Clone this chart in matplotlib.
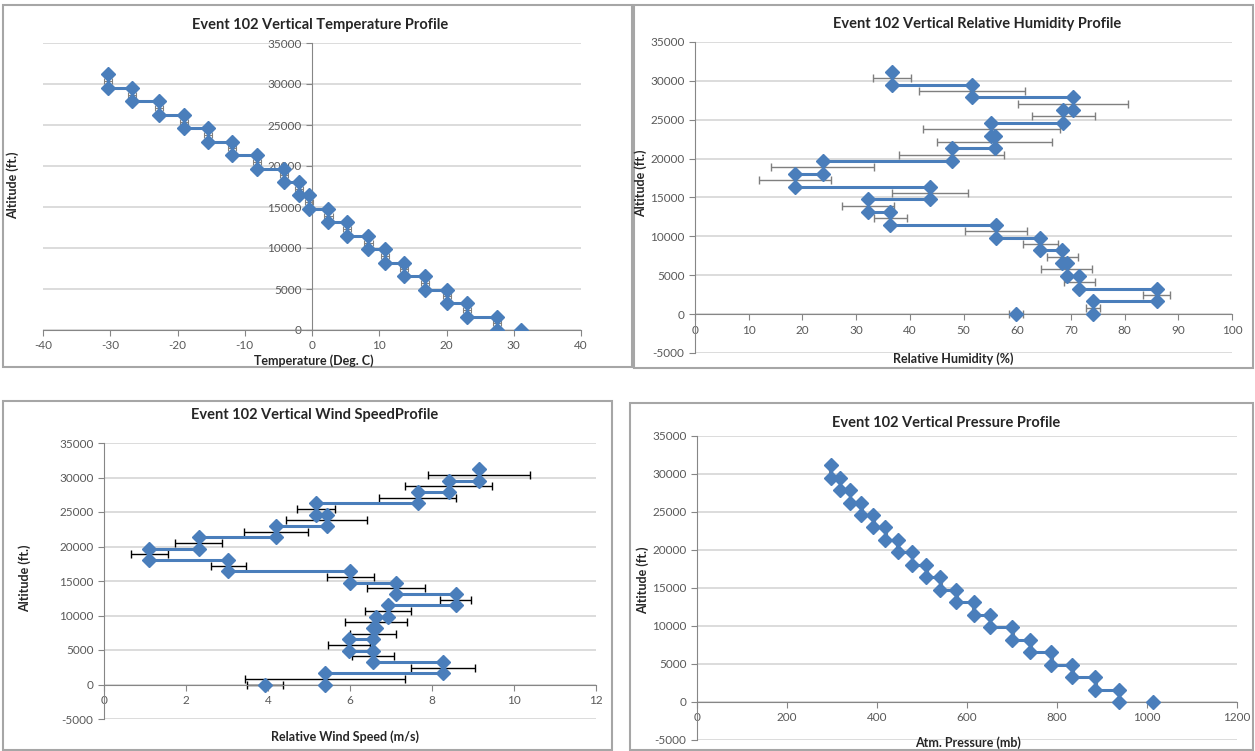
import matplotlib
matplotlib.use("Agg")
import matplotlib.pyplot as plt
from matplotlib.patches import Rectangle

plt.rcParams['font.family'] = ['Lato', 'DejaVu Sans']
plt.rcParams['axes.unicode_minus'] = False

# Altitude levels (ft.) bounding each 500 m layer
ALT_LEVELS = [0, 1640, 3281, 4921, 6562, 8202, 9843, 11483, 13123, 14764,
              16404, 18045, 19685, 21325, 22966, 24606, 26247, 27887, 29528, 31168]

# Layer means, bottom layer first, plus the surface reading
TEMP_LAYERS = [27.5, 23.0, 20.1, 16.8, 13.7, 10.8, 8.4, 5.25, 2.45, -0.5,
               -2.0, -4.2, -8.2, -11.9, -15.4, -19.1, -22.7, -26.8, -30.4]
TEMP_ERR = [0.6, 0.6, 0.6, 0.6, 0.6, 0.6, 0.6, 0.6, 0.6, 0.6,
            0.6, 0.6, 0.6, 0.6, 0.6, 0.6, 0.6, 0.6, 0.6]
TEMP_GROUND = 31.1

RH_LAYERS = [74.2, 86.0, 71.6, 69.2, 68.4, 64.3, 56.0, 36.4, 32.2, 43.7,
             18.7, 23.8, 47.8, 55.8, 55.2, 68.6, 70.4, 51.6, 36.7]
RH_ERR = [1.3, 2.5, 2.9, 4.8, 2.9, 3.3, 5.8, 3.1, 4.8, 7.1,
          6.7, 9.6, 9.8, 10.7, 12.7, 5.9, 10.3, 9.9, 3.6]
RH_GROUND = 59.8
RH_GROUND_ERR = 1.3

WIND_LAYERS = [5.39, 8.28, 6.57, 5.98, 6.57, 6.63, 6.93, 8.58, 7.12, 6.01,
               3.03, 1.10, 2.31, 4.20, 5.43, 5.17, 7.65, 8.41, 9.14]
WIND_ERR = [1.94, 0.78, 0.51, 0.51, 0.56, 0.75, 0.56, 0.38, 0.71, 0.57,
            0.43, 0.45, 0.57, 0.78, 0.98, 0.46, 0.94, 1.06, 1.24]
WIND_GROUND = 3.93
WIND_GROUND_ERR = 0.44

PRES_LAYERS = [938, 885.5, 834, 787, 741, 700.6, 650.8, 614.5, 576.4, 541,
               509.4, 477.7, 446, 418.7, 391.6, 365.3, 339.9, 318.1, 297.3]
PRES_ERR = [3, 3, 3, 3, 3, 3, 3, 3, 3, 3,
            3, 3, 3, 3, 3, 3, 3, 3, 3]
PRES_GROUND = 1013

BLUE = '#4a7ebb'
TICK_COLOR = '#595959'
GRID_COLOR = '#d9d9d9'
AXIS_COLOR = '#868686'


def draw_profile(ax, values, errs, ground, ground_err, ecolor, elw, cap=3):
    xs, ys, mids = [], [], []
    for i, v in enumerate(values):
        xs += [v, v]
        ys += [ALT_LEVELS[i], ALT_LEVELS[i + 1]]
        mids.append((ALT_LEVELS[i] + ALT_LEVELS[i + 1]) / 2)
    ax.errorbar(values, mids, xerr=errs, fmt='none', ecolor=ecolor,
                elinewidth=elw, capsize=cap, capthick=elw, zorder=2)
    if ground_err:
        ax.errorbar([ground], [0], xerr=[ground_err], fmt='none', ecolor=ecolor,
                    elinewidth=elw, capsize=cap, capthick=elw, zorder=2)
    ax.plot(xs, ys, color=BLUE, lw=2.2, marker='D', markersize=7, zorder=3)
    ax.plot([ground], [0], color=BLUE, marker='D', markersize=7, ls='none', zorder=3)


def style_axes(ax, xlim, xticks, ylim, yticks, yaxis_x=None):
    ax.set_xlim(*xlim)
    ax.set_ylim(*ylim)
    ax.set_xticks(xticks)
    ax.set_yticks(yticks)
    for y in yticks:
        ax.axhline(y, color=GRID_COLOR, lw=1.3, zorder=0)
    ax.spines['top'].set_visible(False)
    ax.spines['right'].set_visible(False)
    ax.spines['bottom'].set_position(('data', 0))
    ax.spines['bottom'].set_color(AXIS_COLOR)
    ax.spines['left'].set_color(AXIS_COLOR)
    if yaxis_x is not None:
        ax.spines['left'].set_position(('data', yaxis_x))
    ax.tick_params(axis='both', colors=AXIS_COLOR, labelcolor=TICK_COLOR,
                   labelsize=8.5, length=4, direction='out')
    ax.set_facecolor('none')


fig = plt.figure(figsize=(12.55, 7.51), dpi=100)

# panel frames
for (x0, y0, x1, y1) in [(3, 5, 632, 367), (634, 5, 1253, 368),
                         (3, 401, 612, 750), (630, 403, 1253, 750)]:
    fig.add_artist(Rectangle((x0 / 1255, 1 - y1 / 751), (x1 - x0) / 1255, (y1 - y0) / 751,
                             transform=fig.transFigure, fill=False,
                             edgecolor='#a6a6a6', lw=1.5))

title_kw = dict(fontsize=10.5, fontweight='bold', color='#262626', ha='center')
label_kw = dict(fontsize=9, fontweight='bold', color='#262626')

# Temperature
ax1 = fig.add_axes([43 / 1255, 1 - 330 / 751, 538 / 1255, 287 / 751])
draw_profile(ax1, TEMP_LAYERS, TEMP_ERR, TEMP_GROUND, None, '#808080', 0.8, cap=2.5)
style_axes(ax1, (-40, 40), range(-40, 41, 10), (0, 35000), range(0, 35001, 5000), yaxis_x=0)
fig.text(320 / 1255, 1 - 25 / 751, 'Event 102 Vertical Temperature Profile', va='center', **title_kw)
fig.text(314 / 1255, 1 - 361 / 751, 'Temperature (Deg. C)', ha='center', va='center', **label_kw)
fig.text(13 / 1255, 1 - 185 / 751, 'Altitude (ft.)', rotation=90, ha='center', va='center', **label_kw)

# Relative humidity
ax2 = fig.add_axes([695 / 1255, 1 - 353 / 751, 537 / 1255, 311 / 751])
draw_profile(ax2, RH_LAYERS, RH_ERR, RH_GROUND, RH_GROUND_ERR, '#7f7f7f', 1.0)
style_axes(ax2, (0, 100), range(0, 101, 10), (-5000, 35000), range(-5000, 35001, 5000))
fig.text(977 / 1255, 1 - 24 / 751, 'Event 102 Vertical Relative Humidity Profile', va='center', **title_kw)
fig.text(953 / 1255, 1 - 359 / 751, 'Relative Humidity (%)', ha='center', va='center', **label_kw)
fig.text(641 / 1255, 1 - 183 / 751, 'Altitude (ft.)', rotation=90, ha='center', va='center', **label_kw)

# Wind speed
ax3 = fig.add_axes([104 / 1255, 1 - 719 / 751, 492 / 1255, 276 / 751])
draw_profile(ax3, WIND_LAYERS, WIND_ERR, WIND_GROUND, WIND_GROUND_ERR, '#000000', 1.0)
style_axes(ax3, (0, 12), range(0, 13, 2), (-5000, 35000), range(-5000, 35001, 5000))
fig.text(315 / 1255, 1 - 415 / 751, 'Event 102 Vertical Wind SpeedProfile', va='center', **title_kw)
fig.text(345 / 1255, 1 - 737 / 751, 'Relative Wind Speed (m/s)', ha='center', va='center', **label_kw)
fig.text(25 / 1255, 1 - 578 / 751, 'Altitude (ft.)', rotation=90, ha='center', va='center', **label_kw)

# Pressure
ax4 = fig.add_axes([697 / 1255, 1 - 740 / 751, 540 / 1255, 304 / 751])
draw_profile(ax4, PRES_LAYERS, PRES_ERR, PRES_GROUND, None, '#808080', 0.8, cap=2)
style_axes(ax4, (0, 1200), range(0, 1201, 200), (-5000, 35000), range(-5000, 35001, 5000))
fig.text(946 / 1255, 1 - 423 / 751, 'Event 102 Vertical Pressure Profile', va='center', **title_kw)
fig.text(968 / 1255, 1 - 743 / 751, 'Atm. Pressure (mb)', ha='center', va='center', **label_kw)
fig.text(643 / 1255, 1 - 580 / 751, 'Altitude (ft.)', rotation=90, ha='center', va='center', **label_kw)

fig.savefig('out.png', dpi=100)
